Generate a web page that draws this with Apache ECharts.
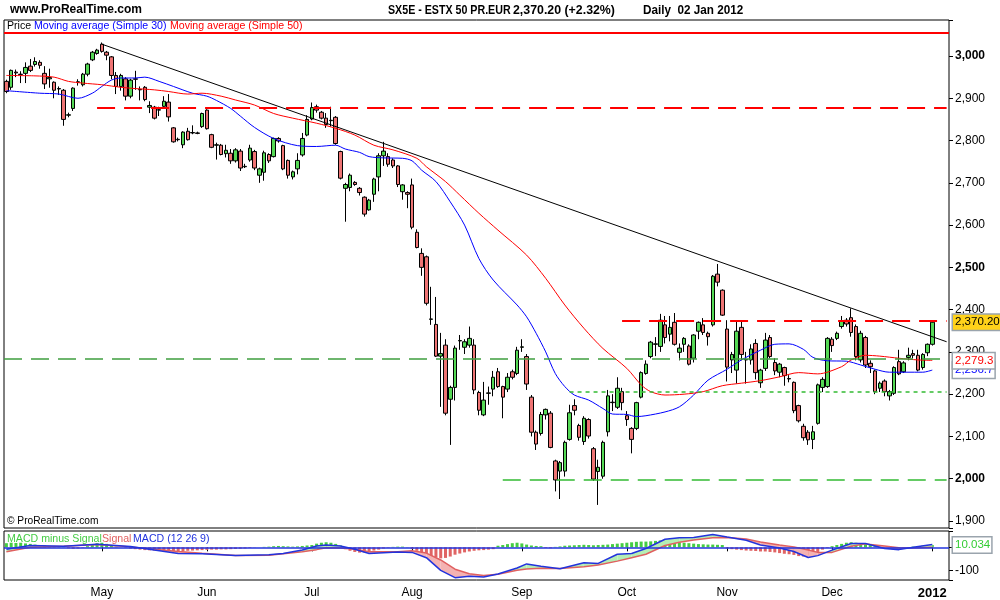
<!DOCTYPE html>
<html><head><meta charset="utf-8">
<script src="https://cdn.jsdelivr.net/npm/echarts@6/dist/echarts.min.js"></script>
<style>html,body{margin:0;padding:0;background:#fff}#c{width:1000px;height:600px}</style>
</head><body><div id="c"></div>
<script>
// ---------- categories (trading days) ----------
const holidays = ['2011-04-22','2011-04-25','2011-12-26'];
function buildDates(start, end){
  const out=[]; let d=new Date(start+'T00:00:00Z'); const e=new Date(end+'T00:00:00Z');
  while(d<=e){ const wd=d.getUTCDay(); const s=d.toISOString().slice(0,10);
    if(wd!==0&&wd!==6&&holidays.indexOf(s)<0) out.push(s);
    d=new Date(d.getTime()+86400000);}
  return out;
}
const dates = buildDates('2011-03-31','2012-01-02');
const padCats = ['pad1','pad2','pad3'];
const categories = dates.concat(padCats);
const monthNames=['Jan','Feb','Mar','Apr','May','Jun','Jul','Aug','Sep','Oct','Nov','Dec'];

// ---------- price candles [open, close, low, high] ----------
const ohlc = [
[2940,2916,2912,2944],[2926,2966,2920,2968],[2962,2960,2950,2968],[2956,2957,2936,2964],[2959,2973,2936,2985],
[2976,2966,2962,2993],[2980,2987,2975,2997],[2985,2978,2970,2990],[2959,2934,2922,2976],[2946,2949,2925,2970],
[2938,2919,2900,2940],[2923,2922,2908,2928],[2919,2850,2835,2922],[2860,2861,2855,2866],[2876,2924,2870,2926],
[2938,2939,2930,2945],[2932,2957,2928,2960],[2957,2981,2952,2984],[2991,3009,2988,3012],[3006,3014,3003,3017],
[3028,3011,3008,3032],[3009,3002,2990,3012],[2998,2954,2945,3000],[2954,2928,2910,2962],[2928,2954,2918,2958],
[2946,2905,2895,2950],[2905,2943,2900,2946],[2946,2945,2920,2965],[2920,2921,2895,2928],[2926,2897,2893,2929],
[2879,2883,2865,2893],[2879,2853,2850,2882],[2873,2872,2858,2880],[2881,2893,2878,2905],[2891,2856,2845,2910],
[2830,2797,2795,2832],[2802,2803,2798,2807],[2790,2820,2782,2822],[2822,2802,2800,2830],[2818,2819,2815,2836],
[2818,2817,2815,2821],[2833,2864,2830,2866],[2872,2828,2826,2874],[2814,2784,2782,2816],[2789,2790,2755,2795],
[2789,2767,2765,2792],[2769,2777,2760,2790],[2770,2752,2745,2780],[2752,2778,2748,2782],[2775,2735,2728,2780],
[2738,2739,2735,2745],[2754,2782,2750,2790],[2774,2735,2730,2778],[2718,2733,2700,2736],[2725,2771,2705,2776],
[2767,2752,2747,2770],[2762,2805,2760,2807],[2805,2799,2795,2808],[2788,2733,2730,2790],[2753,2718,2710,2755],
[2714,2726,2708,2729],[2733,2753,2720,2770],[2766,2805,2762,2818],[2813,2850,2810,2860],[2851,2878,2848,2890],
[2880,2872,2866,2885],[2867,2853,2850,2870],[2853,2838,2830,2865],[2847,2848,2833,2880],[2855,2793,2790,2858],
[2774,2711,2708,2776],[2687,2696,2608,2700],[2689,2718,2680,2722],[2701,2696,2693,2704],[2687,2677,2670,2690],
[2666,2626,2620,2668],[2636,2659,2634,2662],[2673,2709,2655,2712],[2714,2764,2680,2770],[2764,2775,2740,2797],
[2762,2744,2738,2770],[2754,2740,2735,2758],[2740,2696,2690,2742],[2679,2695,2660,2697],[2677,2673,2640,2680],
[2695,2595,2590,2710],[2583,2547,2545,2590],[2533,2500,2480,2545],[2525,2415,2410,2528],[2377,2378,2364,2454],
[2365,2290,2288,2430],[2290,2296,2170,2345],[2316,2155,2150,2330],[2188,2216,2080,2220],[2216,2309,2185,2315],
[2326,2327,2305,2340],[2311,2324,2295,2330],[2316,2332,2310,2360],[2316,2210,2200,2330],[2204,2162,2150,2208],
[2151,2186,2148,2229],[2202,2203,2175,2218],[2212,2240,2195,2255],[2253,2218,2215,2262],[2218,2193,2143,2220],
[2212,2240,2205,2250],[2253,2240,2235,2258],[2249,2304,2245,2312],[2311,2312,2300,2330],[2289,2224,2210,2295],
[2193,2110,2100,2198],[2110,2082,2068,2114],[2107,2152,2102,2158],[2151,2164,2140,2166],[2155,2074,2072,2160],
[2042,1997,1970,2045],[2018,2038,1952,2042],[2018,2086,2005,2090],[2093,2156,2090,2175],[2173,2162,2150,2188],
[2126,2098,2090,2130],[2088,2143,2080,2148],[2140,2101,2095,2143],[2071,1999,1995,2075],[2017,2027,1938,2045],
[2006,2086,2000,2090],[2111,2196,2100,2210],[2180,2181,2160,2200],[2169,2214,2165,2240],[2206,2180,2162,2215],
[2149,2140,2125,2160],[2119,2093,2060,2122],[2119,2180,2115,2182],[2193,2251,2190,2254],[2249,2271,2246,2280],
[2289,2323,2285,2326],[2318,2319,2290,2335],[2313,2375,2300,2390],[2364,2334,2320,2385],[2342,2358,2325,2385],
[2370,2318,2315,2392],[2299,2309,2280,2320],[2318,2332,2300,2335],[2314,2271,2268,2318],[2285,2340,2275,2342],
[2349,2370,2330,2372],[2364,2346,2340,2380],[2344,2336,2315,2348],[2364,2479,2360,2482],[2484,2465,2455,2508],
[2446,2387,2385,2448],[2354,2264,2230,2375],[2281,2294,2250,2300],[2257,2349,2225,2375],[2358,2294,2280,2375],
[2281,2282,2225,2300],[2281,2307,2270,2318],[2320,2251,2235,2330],[2227,2257,2215,2260],[2261,2328,2255,2345],
[2334,2289,2285,2340],[2275,2255,2245,2285],[2252,2271,2240,2274],[2263,2244,2220,2265],[2237,2236,2228,2245],
[2228,2161,2155,2230],[2173,2137,2133,2175],[2124,2097,2090,2130],[2110,2092,2080,2115],[2093,2111,2070,2125],
[2131,2222,2128,2225],[2216,2235,2205,2240],[2218,2332,2215,2335],[2330,2315,2300,2335],[2332,2344,2328,2348],
[2360,2373,2355,2385],[2375,2366,2360,2380],[2381,2346,2336,2403],[2360,2289,2280,2365],[2281,2344,2275,2350],
[2334,2269,2262,2338],[2273,2265,2250,2280],[2255,2206,2200,2258],[2214,2226,2205,2230],[2231,2206,2195,2235],
[2196,2206,2185,2210],[2202,2263,2198,2266],[2277,2248,2245,2305],[2253,2274,2250,2278],[2287,2292,2280,2310],
[2296,2292,2285,2305],[2292,2257,2254,2305],[2263,2294,2258,2297],[2298,2318,2290,2320],[2318,2370.2,2315,2372]
];

// ---------- moving averages (read at sample bars) ----------
const ma30Idx = [0,7,11,15,18,20,22,24,27,29,32,35,39,42,44,47,49,52,56,61,65,69,71,74,76,79,83,85,87,90,93,96,99,102,107,109,111,113,115,117,119,122,125,127,130,132,134,138,141,144,147,151,154,158,161,164,167,169,172,176,179,182,185,192,194];
const ma30Val = [2918,2912,2910,2900,2912,2928,2943,2948,2948,2950,2940,2928,2912,2905,2895,2876,2858,2831,2805,2788,2786,2789,2780,2772,2762,2759,2758,2752,2730,2703,2655,2600,2521,2470,2411,2383,2344,2300,2249,2218,2198,2186,2166,2153,2152,2147,2149,2158,2170,2198,2233,2259,2281,2304,2318,2319,2306,2287,2279,2278,2269,2259,2252,2252,2257];
const ma50Idx = [0,6,10,13,16,20,24,27,31,34,38,41,45,48,52,56,60,65,69,73,77,81,86,88,92,95,99,103,109,113,117,121,125,130,133,135,138,142,146,150,154,158,162,166,170,175,177,180,183,187,191,194];
const ma50Val = [2954,2953,2950,2940,2936,2932,2926,2923,2920,2916,2910,2912,2905,2896,2884,2864,2853,2841,2829,2813,2789,2778,2758,2738,2703,2671,2628,2588,2529,2474,2411,2356,2308,2261,2222,2206,2198,2200,2206,2220,2226,2232,2241,2251,2248,2265,2281,2292,2290,2285,2281,2280];

// ---------- drawn levels ----------
const topLine = 3055;
const resistance1 = 2877, resistance1From = 19;
const resistance2 = 2373, resistance2From = 129;
const supportFull = 2283;
const support2 = 2206, support2From = 118;
const support3 = 1997, support3From = 104;
const trendStart = [20, 3028], trendEnd = [197, 2324];
const lastPrice = 2370.20, lastMA50 = 2279.3, lastMA30 = 2256.7;

// ---------- MACD ----------
const histVal = [
18,20,19,20,17,15,12, 10,8,6,5,3,1, -4,-6,-5,-2, 5,12,18,20,15,8, 3,0,-2,
-5,-8,-10,-12,-13,-14,-15,-16,-17,-18,-17,-16,-15,-14,-13,-12,-11,-10,-10,-9,-9,-8,-7,-6,-5,
-3,-1,0,2,3,5,6, 5,4,3,4,6,8, 10,16,20,22,20,15,8, -8,-15,-20,-23,-22,-18,-14,-10,-5,-2, 2,3,3,1,
-8,-15,-22,-30,-38,-44,-48,-46,-40,-32,-27,-22,-18,-15,-13,-12,-10,-8,
7,10,14,18,20,17,12,8, 6,5,-3,-4,2,4, 7,8,9,10,11,10,9,10,11,12, 14,16,18,20,22,24,25,25,26,
28,30,30,28,25,22,20,18,16,14,13,12,12,11,10,
-5,-8,-10,-12,-14,-15,-16,-18,-18,-20,-22,-25,-28,-30,-33,-38,-40,-36,-30,-20,-10,-3,
5,10,15,20,22,20,18,15,10,5, -3,-5,-6,-5,-4,-3,-2, 3,5,7,9,10.034
];
const macdIdx = [0,5,12,19,26,31,36,41,48,55,58,62,65,67,70,73,76,82,85,88,91,94,97,100,103,107,109,112,116,121,124,128,131,134,138,141,144,148,151,155,158,162,165,168,170,173,177,180,184,187,190,194];
const macdVal = [-8,8,5,13,4,-12,-27,-28,-36,-32,-27,-12,6,10,6,-8,-27,-20,-22,-45,-100,-132,-126,-129,-116,-90,-72,-82,-93,-67,-70,-30,-27,-5,35,42,43,56,45,31,10,-3,-18,-44,-36,-12,17,17,-5,-10,0,12];
const signalVal = [-19,0,5,12,2,-8,-18,-26,-35,-34,-28,-19,-10,-2,-3,-8,-19,-19,-15,-25,-55,-95,-115,-122,-117,-100,-94,-91,-92,-84,-77,-60,-45,-30,8,22,32,42,43,36,23,10,2,-12,-22,-22,5,15,6,-2,-3,0];
const lastHist = 10.034;

// ---------- helpers ----------
const FONT = '"Liberation Sans", Arial, sans-serif';
const fmtThousands = v => String(v).replace(/\B(?=(\d{3})+(?!\d))/g, ',');
function isMonthStart(idx){ if(idx<5||idx>=dates.length) return false; return dates[idx].slice(0,7)!==dates[idx-1].slice(0,7); }
const pairs = (ix, vals) => ix.map((i,k)=>[i, vals[k]]);
const fillData = [];
for(let k=0;k<macdIdx.length-1;k++) fillData.push([macdIdx[k],macdVal[k],signalVal[k],macdIdx[k+1],macdVal[k+1],signalVal[k+1]]);

const GREEN='#55d955', RED='#ee7474';
const HIDDEN = {color:'rgba(0,0,0,0)', width:1, type:'solid'};
const boxLabel = (txt, color, bg) => ({show:true, position:'end', distance:4, formatter:txt, color:color, backgroundColor:bg, borderColor:'#9aa4ad', borderWidth:1.5, padding:[2,1,1,2], fontSize:11.5, fontFamily:FONT, opacity:1});

const chart = echarts.init(document.getElementById('c'), null, {renderer:'canvas'});
chart.setOption({
  animation:false,
  backgroundColor:'#fff',
  textStyle:{fontFamily:FONT},
  grid:[
    {left:4, top:20, width:945, height:508, show:true, borderColor:'#000', borderWidth:1, containLabel:false},
    {left:4, top:531, width:945, height:49, show:true, borderColor:'#000', borderWidth:1, containLabel:false}
  ],
  xAxis:[
    {type:'category', gridIndex:0, data:categories, axisLine:{show:false}, axisTick:{show:false}, axisLabel:{show:false}, splitLine:{show:false}},
    {type:'category', gridIndex:1, data:categories, axisLine:{show:false},
      axisTick:{show:true, alignWithLabel:true, interval:(i)=>isMonthStart(i), length:4, lineStyle:{color:'#000'}},
      axisLabel:{interval:(i)=>isMonthStart(i), margin:7, color:'#000', fontSize:12,
        formatter:(v)=>{ if(v.indexOf('pad')===0) return ''; const m=+v.slice(5,7); return m===1?'{b|'+v.slice(0,4)+'}':monthNames[m-1]; },
        rich:{b:{fontWeight:'bold', fontSize:13, color:'#000'}}},
      splitLine:{show:false}}
  ],
  yAxis:[
    {type:'value', gridIndex:0, position:'right', min:1883.4, max:3085.2, splitNumber:12,
      axisLine:{show:false}, splitLine:{show:false},
      axisTick:{show:true, length:4, lineStyle:{color:'#000'}},
      axisLabel:{margin:6, color:'#000', fontSize:12,
        formatter:(v)=>{ if(Math.abs(v-Math.round(v/100)*100)>0.01) return ''; const s=fmtThousands(Math.round(v)); return Math.round(v)%500===0?'{b|'+s+'}':s; },
        rich:{b:{fontWeight:'bold', fontSize:12, color:'#000'}}}},
    {type:'value', gridIndex:1, position:'right', min:-142, max:71, splitNumber:2,
      axisLine:{show:false}, splitLine:{show:false},
      axisTick:{show:true, length:4, lineStyle:{color:'#000'}},
      axisLabel:{margin:6, color:'#000', fontSize:12, formatter:(v)=> v===-100?'-100':''}}
  ],
  series:[
    {type:'candlestick', xAxisIndex:0, yAxisIndex:0, data:ohlc, barWidth:4, z:2,
      itemStyle:{color:GREEN, color0:RED, borderColor:'#000', borderColor0:'#000', borderWidth:1},
      markLine:{symbol:'none', silent:true, animation:false,
        data:[
          {yAxis:topLine, lineStyle:{color:'#ff0000', width:2, type:'solid'}, label:{show:false}},
          [{coord:[resistance1From,resistance1], lineStyle:{color:'#ff0000', width:2, type:[18,9]}, label:{show:false}},{coord:[197,resistance1]}],
          [{coord:[resistance2From,resistance2], lineStyle:{color:'#ff0000', width:2, type:[18,9]}, label:{show:false}},{coord:[197,resistance2]}],
          {yAxis:supportFull, lineStyle:{color:'#3f9f3f', width:1.5, type:[18,9]}, label:{show:false}},
          [{coord:[support2From,support2], lineStyle:{color:'#33bb33', width:1.5, type:[4,4]}, label:{show:false}},{coord:[197,support2]}],
          [{coord:[support3From,support3], lineStyle:{color:'#33bb33', width:1.5, type:[18,9]}, label:{show:false}},{coord:[197,support3]}],
          [{coord:trendStart, lineStyle:{color:'#000', width:1, type:'solid'}, label:{show:false}},{coord:trendEnd}],
          {yAxis:lastPrice, lineStyle:HIDDEN, label:boxLabel('2,370.20','#000','#ffd21a')}
        ]}},
    {type:'line', xAxisIndex:0, yAxisIndex:0, data:pairs(ma30Idx, ma30Val), showSymbol:false, smooth:0.3, z:3,
      lineStyle:{color:'#0000ff', width:1}, itemStyle:{color:'#0000ff'},
      markLine:{symbol:'none', silent:true, data:[{yAxis:lastMA30, lineStyle:HIDDEN, label:boxLabel('2,256.7','#0000ff','#fff')}]}},
    {type:'line', xAxisIndex:0, yAxisIndex:0, data:pairs(ma50Idx, ma50Val), showSymbol:false, smooth:0.3, z:4,
      lineStyle:{color:'#ff0000', width:1}, itemStyle:{color:'#ff0000'},
      markLine:{symbol:'none', silent:true, data:[{yAxis:lastMA50, lineStyle:HIDDEN, label:boxLabel('2,279.3','#ff0000','#fff')}]}},
    {type:'bar', xAxisIndex:1, yAxisIndex:1, barWidth:3, z:2,
      data:histVal.map(v=>({value:v, itemStyle:{color: v>=0?'#44cc44':'#e06464'}}))},
    {type:'custom', xAxisIndex:1, yAxisIndex:1, z:3, clip:true, data:fillData, encode:{x:0, y:1},
      renderItem:function(params, api){
        const i0=api.value(0), m0=api.value(1), s0=api.value(2), i1=api.value(3), m1=api.value(4), s1=api.value(5);
        const A=api.coord([i0,m0]), B=api.coord([i1,m1]), C=api.coord([i1,s1]), D=api.coord([i0,s0]);
        const d0=m0-s0, d1=m1-s1; const col=d=>d>=0?'#b4eeb4':'#f4b2b2'; const kids=[];
        if(d0*d1>=0){ kids.push({type:'polygon', shape:{points:[A,B,C,D]}, style:{fill:col(d0+d1)}}); }
        else { const t=d0/(d0-d1); const X=[A[0]+t*(B[0]-A[0]), A[1]+t*(B[1]-A[1])];
          kids.push({type:'polygon', shape:{points:[A,X,D]}, style:{fill:col(d0)}});
          kids.push({type:'polygon', shape:{points:[X,B,C]}, style:{fill:col(d1)}}); }
        return {type:'group', children:kids};
      }},
    {type:'line', xAxisIndex:1, yAxisIndex:1, data:pairs(macdIdx, signalVal), showSymbol:false, z:4,
      lineStyle:{color:'#e06060', width:1.5}, itemStyle:{color:'#e06060'}},
    {type:'line', xAxisIndex:1, yAxisIndex:1, data:pairs(macdIdx, macdVal), showSymbol:false, z:5,
      lineStyle:{color:'#2233dd', width:1.5}, itemStyle:{color:'#2233dd'},
      markLine:{symbol:'none', silent:true, data:[
        {yAxis:0, lineStyle:{color:'#2233dd', width:1.5, type:'solid'}, label:{show:false}},
        {yAxis:lastHist, lineStyle:HIDDEN, label:boxLabel('10.034','#33cc33','#fff')}
      ]}}
  ],
  graphic:[
    {type:'text', x:10, y:10, style:{text:'www.ProRealTime.com', font:'bold 12px '+FONT, fill:'#000', verticalAlign:'middle'}},
    {type:'text', x:388, y:10, scaleX:0.82, style:{text:'SX5E - ESTX 50 PR.EUR', font:'bold 13px '+FONT, fill:'#000', verticalAlign:'middle'}},
    {type:'text', x:513, y:10, scaleX:0.95, style:{text:'2,370.20 (+2.32%)', font:'bold 13px '+FONT, fill:'#000', verticalAlign:'middle'}},
    {type:'text', x:643, y:10, scaleX:0.9, style:{text:'Daily  02 Jan 2012', font:'bold 13px '+FONT, fill:'#000', verticalAlign:'middle'}},
    {type:'text', x:7, y:26, style:{text:'Price', font:'10.6px '+FONT, fill:'#000', verticalAlign:'middle'}},
    {type:'text', x:34, y:26, style:{text:'Moving average (Simple 30)', font:'10.6px '+FONT, fill:'#0000ff', verticalAlign:'middle'}},
    {type:'text', x:170, y:26, style:{text:'Moving average (Simple 50)', font:'10.6px '+FONT, fill:'#ff0000', verticalAlign:'middle'}},
    {type:'text', x:7, y:521, style:{text:'© ProRealTime.com', font:'10.2px '+FONT, fill:'#000', verticalAlign:'middle'}},
    {type:'text', x:7, y:539, style:{text:'MACD minus Signal', font:'10.6px '+FONT, fill:'#44cc44', verticalAlign:'middle'}},
    {type:'text', x:102, y:539, style:{text:'Signal', font:'10.6px '+FONT, fill:'#e06060', verticalAlign:'middle'}},
    {type:'text', x:133, y:539, style:{text:'MACD (12 26 9)', font:'10.6px '+FONT, fill:'#2233dd', verticalAlign:'middle'}}
  ]
});
</script></body></html>
